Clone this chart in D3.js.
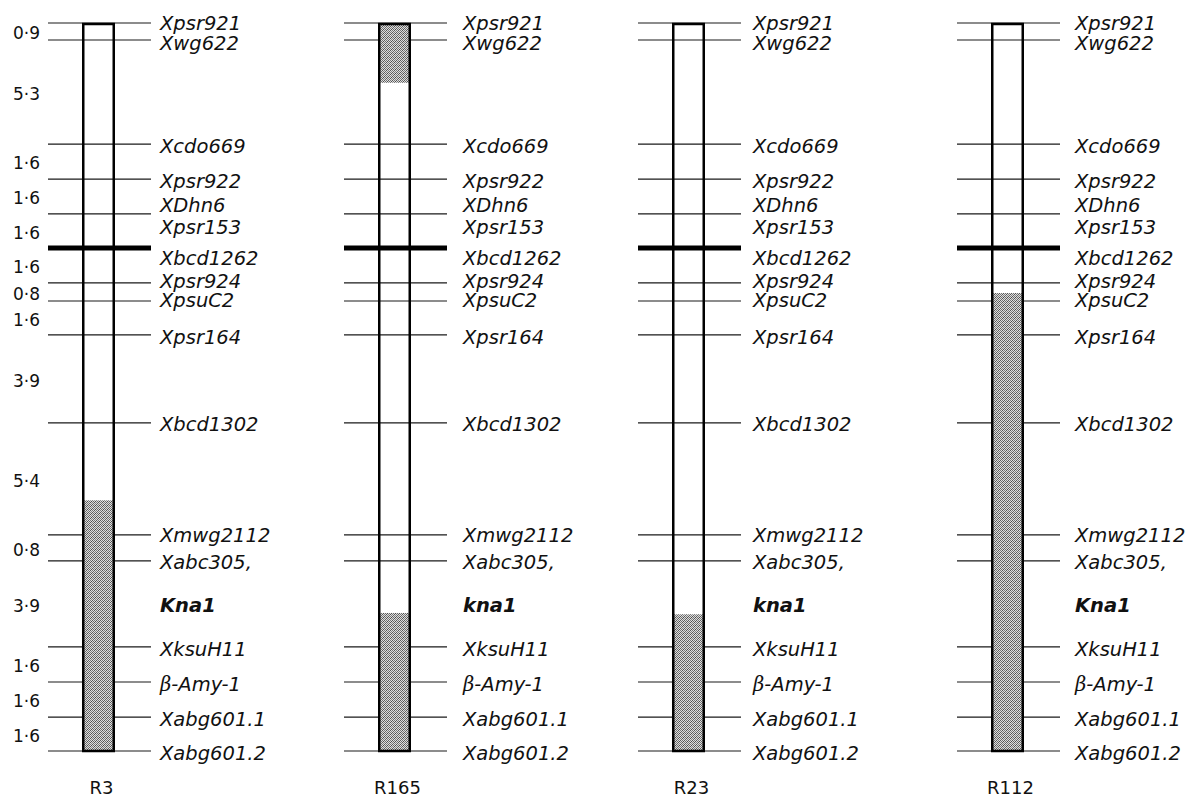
<!DOCTYPE html>
<html>
<head>
<meta charset="utf-8">
<script src="https://cdn.jsdelivr.net/npm/d3@7"></script>
<style>
body { margin: 0; background: #fff; }
svg { display: block; }
text { font-family: 'DejaVu Sans', sans-serif; fill: #111; }
.marker { font-style: italic; font-size: 19.5px; }
.dist { font-size: 17px; }
.line-name { font-size: 18px; }
</style>
</head>
<body>
<svg id="chart" width="1193" height="799"></svg>
<script>
// recombinant lines
const lines = ['R3', 'R165', 'R23', 'R112'];

// loci along the map (map units)
const lociPos = [0, 0.79, 5.63, 7.26, 8.88, 10.47, 12.09, 12.93, 14.51, 18.60, 23.81, 25.02, 29.02, 30.65, 32.28, 33.86];
const heavyLocus = 5;

// distances between adjacent loci (cM)
const distances = ['0·9', '5·3', '1·6', '1·6', '1·6', '1·6', '0·8', '1·6', '3·9', '5·4', '0·8', '3·9', '1·6', '1·6', '1·6'];

// marker labels and where they sit
const markerNames = ['Xpsr921', 'Xwg622', 'Xcdo669', 'Xpsr922', 'XDhn6', 'Xpsr153', 'Xbcd1262', 'Xpsr924', 'XpsuC2',
    'Xpsr164', 'Xbcd1302', 'Xmwg2112', 'Xabc305,', 'KNA', 'XksuH11', 'β-Amy-1', 'Xabg601.1', 'Xabg601.2'];
const markerLabelPos = [0, 0.93, 5.72, 7.35, 8.47, 9.49, 10.95, 12.02, 12.88, 14.6, 18.65, 23.81, 25.07, 27.07,
    29.12, 30.74, 32.37, 33.95];
const knaAllele = ['Kna1', 'kna1', 'kna1', 'Kna1'];

// shaded segments for each line
const segLine = ['R3', 'R165', 'R165', 'R23', 'R112'];
const segFrom = [22.2, 0, 27.44, 27.5, 12.56];
const segTo = [33.86, 2.78, 33.86, 33.86, 33.86];

const svg = d3.select('#chart');

const y = d3.scaleLinear()
    .domain([0, d3.max(lociPos)])
    .range([23, 751]);

const barX = d3.scaleOrdinal().domain(lines).range([82, 378, 672, 991]);
const labelX = d3.scaleOrdinal().domain(lines).range([160, 463, 753, 1075]);
const barW = 33;

// stipple fill
const pat = svg.append('defs').append('pattern')
    .attr('id', 'stipple')
    .attr('patternUnits', 'userSpaceOnUse')
    .attr('width', 4)
    .attr('height', 4);
pat.append('rect').attr('width', 4).attr('height', 4).attr('fill', '#dedede');
const dots = [[0, 0, '#5a5a5a'], [2, 0, '#777'], [1, 1, '#6a6a6a'], [3, 1, '#4c4c4c'],
    [0, 2, '#7a7a7a'], [2, 2, '#555'], [1, 3, '#666'], [3, 3, '#808080']];
pat.selectAll('rect.d').data(dots).enter().append('rect')
    .attr('class', 'd')
    .attr('x', d => d[0]).attr('y', d => d[1])
    .attr('width', 1).attr('height', 1)
    .attr('fill', d => d[2]);

lines.forEach((name, li) => {
    const bx = barX(name);
    const g = svg.append('g');

    // locus lines
    g.selectAll('line.locus')
        .data(lociPos.filter((d, i) => i !== heavyLocus))
        .enter().append('line')
        .attr('x1', bx - 34)
        .attr('x2', bx + barW + 36)
        .attr('y1', d => y(d))
        .attr('y2', d => y(d))
        .attr('stroke', '#1a1a1a')
        .attr('stroke-width', 1.2);

    // shaded segments
    segLine.forEach((s, si) => {
        if (s !== name) return;
        g.append('rect')
            .attr('x', bx)
            .attr('width', barW)
            .attr('y', y(segFrom[si]))
            .attr('height', y(segTo[si]) - y(segFrom[si]))
            .attr('fill', 'url(#stipple)');
    });

    // chromosome outline
    g.append('rect')
        .attr('x', bx + 1.25)
        .attr('y', y(0) + 1)
        .attr('width', barW - 2.5)
        .attr('height', y(d3.max(lociPos)) - y(0) - 1)
        .attr('fill', 'none')
        .attr('stroke', '#000')
        .attr('stroke-width', 2.5);

    // heavy locus bar
    g.append('line')
        .attr('x1', bx - 34)
        .attr('x2', bx + barW + 36)
        .attr('y1', y(lociPos[heavyLocus]))
        .attr('y2', y(lociPos[heavyLocus]))
        .attr('stroke', '#000')
        .attr('stroke-width', 5);

    // marker labels
    const lab = g.selectAll('text.marker')
        .data(markerNames)
        .enter().append('text')
        .attr('class', 'marker')
        .attr('x', labelX(name))
        .attr('y', (d, i) => y(markerLabelPos[i]))
        .attr('dy', '0.36em');
    lab.each(function(d) {
        const t = d3.select(this);
        if (d === 'KNA') {
            t.text(knaAllele[li]).style('font-weight', 'bold');
        } else if (d.startsWith('β')) {
            t.append('tspan').style('font-family', "'DejaVu Serif', serif").text('β');
            t.append('tspan').text(d.slice(1));
        } else {
            t.text(d);
        }
    });

    // line name
    g.append('text')
        .attr('class', 'line-name')
        .attr('x', bx + barW / 2 + 3)
        .attr('y', 794)
        .attr('text-anchor', 'middle')
        .text(name);
});

// distances column
svg.append('g').selectAll('text')
    .data(distances)
    .enter().append('text')
    .attr('class', 'dist')
    .attr('x', 40)
    .attr('y', (d, i) => (y(lociPos[i]) + y(lociPos[i + 1])) / 2 + 1.5)
    .attr('dy', '0.36em')
    .attr('text-anchor', 'end')
    .text(d => d);
</script>
</body>
</html>
